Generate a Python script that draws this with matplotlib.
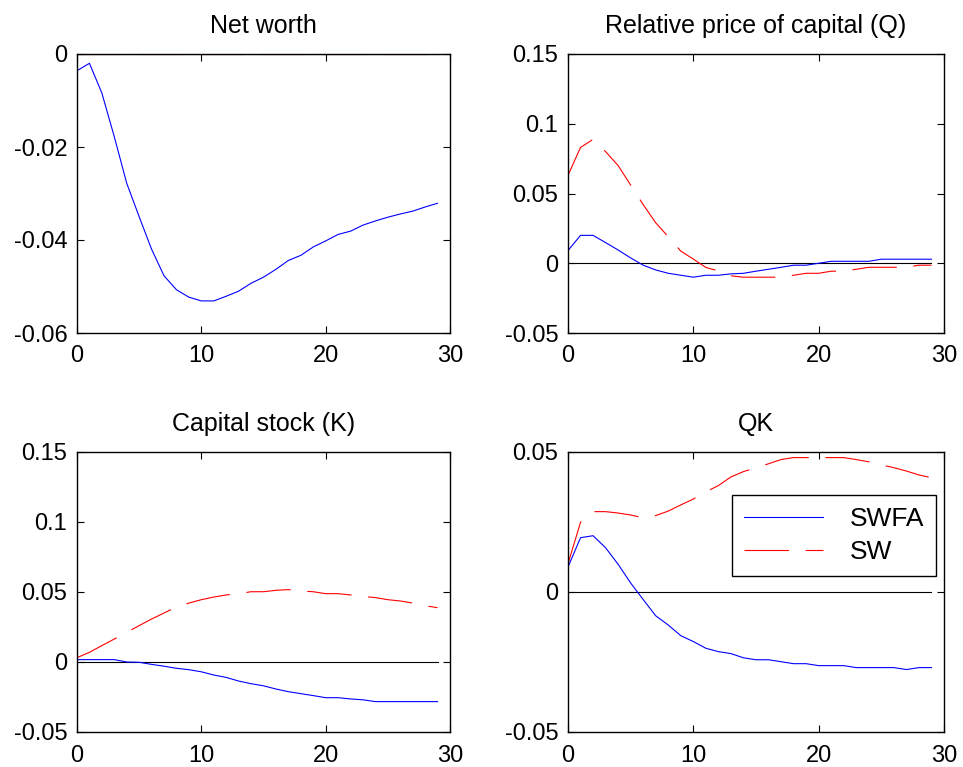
import numpy as np
import matplotlib.pyplot as plt

plt.rcParams['font.family'] = ['Liberation Sans', 'DejaVu Sans']
plt.rcParams['lines.scale_dashes'] = False

t = np.arange(30)

# Net worth
nw_swfa = [-0.0036, -0.0020, -0.0084, -0.0178, -0.0278, -0.0350, -0.0420, -0.0477, -0.0507, -0.0523,
           -0.0531, -0.0531, -0.0521, -0.0510, -0.0493, -0.0480, -0.0463, -0.0444, -0.0433, -0.0415,
           -0.0402, -0.0388, -0.0381, -0.0368, -0.0359, -0.0351, -0.0344, -0.0338, -0.0329, -0.0321]
nw_sw = [0.0] * 30

# Relative price of capital (Q)
q_swfa = [0.0091, 0.0200, 0.0200, 0.0148, 0.0095, 0.0038, -0.0014, -0.0048, -0.0072, -0.0086,
          -0.0100, -0.0086, -0.0086, -0.0076, -0.0072, -0.0057, -0.0043, -0.0029, -0.0014, -0.0014,
          0.0000, 0.0014, 0.0014, 0.0014, 0.0014, 0.0029, 0.0029, 0.0029, 0.0029, 0.0029]
q_sw = [0.0630, 0.0830, 0.0888, 0.0800, 0.0700, 0.0560, 0.0420, 0.0290, 0.0190, 0.0087,
        0.0030, -0.0030, -0.0055, -0.0090, -0.0100, -0.0100, -0.0100, -0.0100, -0.0086, -0.0072,
        -0.0072, -0.0057, -0.0057, -0.0043, -0.0029, -0.0029, -0.0029, -0.0029, -0.0014, -0.0014]

# Capital stock (K)
k_swfa = [0.0017, 0.0017, 0.0017, 0.0017, 0.0000, -0.0002, -0.0017, -0.0030, -0.0045, -0.0055,
          -0.0070, -0.0093, -0.0110, -0.0136, -0.0155, -0.0170, -0.0193, -0.0212, -0.0226, -0.0240,
          -0.0255, -0.0255, -0.0264, -0.0270, -0.0283, -0.0283, -0.0283, -0.0283, -0.0283, -0.0283]
k_sw = [0.0031, 0.0069, 0.0117, 0.0164, 0.0212, 0.0260, 0.0307, 0.0350, 0.0393, 0.0421,
        0.0445, 0.0464, 0.0479, 0.0488, 0.0502, 0.0502, 0.0512, 0.0517, 0.0507, 0.0502,
        0.0488, 0.0488, 0.0479, 0.0469, 0.0460, 0.0445, 0.0436, 0.0421, 0.0402, 0.0388]

# QK
qk_swfa = [0.0089, 0.0194, 0.0201, 0.0158, 0.0099, 0.0032, -0.0027, -0.0085, -0.0118, -0.0156,
           -0.0177, -0.0201, -0.0213, -0.0220, -0.0235, -0.0242, -0.0242, -0.0249, -0.0256, -0.0256,
           -0.0263, -0.0263, -0.0263, -0.0270, -0.0270, -0.0270, -0.0270, -0.0277, -0.0270, -0.0270]
qk_sw = [0.0101, 0.0249, 0.0287, 0.0287, 0.0282, 0.0275, 0.0265, 0.0273, 0.0289, 0.0311,
         0.0332, 0.0358, 0.0380, 0.0411, 0.0430, 0.0444, 0.0458, 0.0473, 0.0480, 0.0480,
         0.0480, 0.0480, 0.0480, 0.0473, 0.0465, 0.0454, 0.0444, 0.0432, 0.0418, 0.0408]

titles = ['Net worth', 'Relative price of capital (Q)', 'Capital stock (K)', 'QK']
series = [(nw_swfa, nw_sw), (q_swfa, q_sw), (k_swfa, k_sw), (qk_swfa, qk_sw)]
ylims = [(-0.06, 0), (-0.05, 0.15), (-0.05, 0.15), (-0.05, 0.05)]
yticks = [[-0.06, -0.04, -0.02, 0], [-0.05, 0, 0.05, 0.1, 0.15],
          [-0.05, 0, 0.05, 0.1, 0.15], [-0.05, 0, 0.05]]
ylabels = [['-0.06', '-0.04', '-0.02', '0'], ['-0.05', '0', '0.05', '0.1', '0.15'],
           ['-0.05', '0', '0.05', '0.1', '0.15'], ['-0.05', '0', '0.05']]

W, H = 963, 767
boxes = [(77, 54, 450, 333), (568, 54, 944, 333), (77, 452, 450, 732), (568, 452, 944, 732)]

fig = plt.figure(figsize=(W / 100, H / 100), dpi=100)
for i in range(4):
    x0, y0, x1, y1 = boxes[i]
    ax = fig.add_axes([x0 / W, 1 - y1 / H, (x1 - x0) / W, (y1 - y0) / H])
    a, b = series[i]
    ax.plot(t, np.zeros(30), color='black', lw=0.8)
    ax.plot(t, a, color='blue', lw=0.8, label='SWFA')
    ax.plot(t, b, color='red', lw=0.8, dashes=(32, 12), label='SW')
    ax.set_xlim(0, 30)
    ax.set_ylim(*ylims[i])
    ax.set_xticks([0, 10, 20, 30])
    ax.set_yticks(yticks[i])
    ax.set_yticklabels(ylabels[i])
    ax.tick_params(direction='in', top=True, right=True, labelsize=17, length=5, width=0.8)
    ax.tick_params(axis='x', pad=9)
    ax.tick_params(axis='y', pad=7)
    ax.set_title(titles[i], fontsize=18, pad=15)
    for s in ax.spines.values():
        s.set_linewidth(1.0)
    if i == 3:
        leg = ax.legend(loc='upper right', bbox_to_anchor=(0.979, 0.846), borderaxespad=0,
                        fontsize=19, handlelength=3.0, handletextpad=1.0, fancybox=False,
                        edgecolor='black', framealpha=1, borderpad=0.45, labelspacing=0.35)
        leg.get_frame().set_linewidth(1.0)

fig.savefig('out.png', dpi=100)
